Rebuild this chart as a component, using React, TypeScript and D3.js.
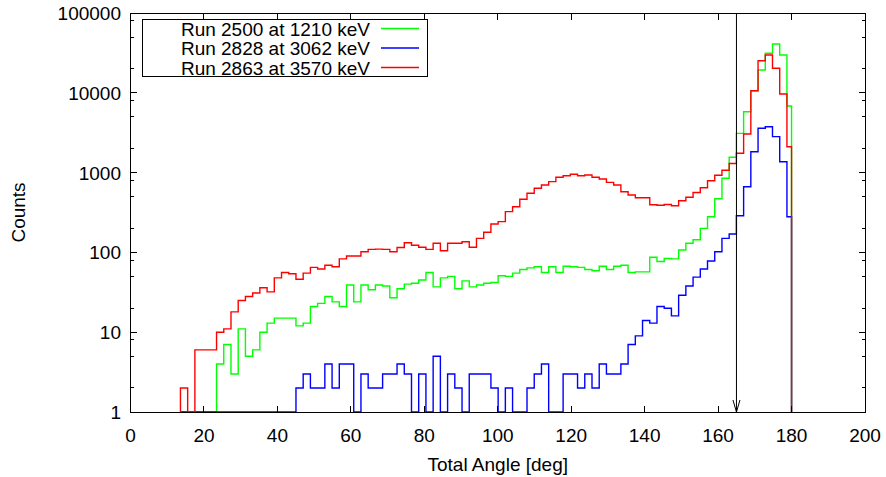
import React from 'react'
import * as d3 from 'd3'

// histogram bins (deg), 2-deg wide steps
const binStart = 13.6
const binWidth = 1.966
const angleMax = 180

const seriesNames = ['Run 2500 at 1210 keV', 'Run 2828 at 3062 keV', 'Run 2863 at 3570 keV']
const seriesColors = ['#00ff00', '#0000ff', '#ff0000']

const counts2500 = [0, 0, 0, 0, 0, 4, 7, 3, 11, 5, 6, 10, 13, 15, 15, 15, 12, 13, 21, 23,
  28, 24, 21, 39, 24, 39, 34, 39, 38, 27, 35, 40, 41, 45, 56, 37, 48, 50, 35, 44,
  37, 39, 41, 42, 51, 50, 55, 61, 64, 66, 56, 66, 56, 67, 66, 65, 61, 59, 67, 61,
  67, 69, 56, 57, 57, 87, 77, 84, 83, 107, 130, 144, 200, 280, 470, 848, 1555, 3105, 5800, 10600,
  19300, 31300, 40900, 29800, 6840]

const counts2828 = [1, 0, 0, 0, 0, 0, 0, 0, 0, 1, 0, 1, 0, 0, 1, 1, 2, 3, 2, 2,
  4, 2, 4, 4, 1, 3, 2, 2, 3, 3, 4, 3, 1, 3, 1, 5, 1, 3, 2, 1,
  3, 3, 3, 2, 1, 2, 1, 1, 2, 3, 4, 1, 1, 3, 3, 2, 3, 2, 4, 3,
  3, 4, 7, 9, 14, 13, 21, 20, 16, 29, 38, 49, 62, 78, 102, 150, 170, 288, 666, 1827,
  3590, 3760, 2820, 1370, 280]

const counts2863 = [2, 0, 6, 6, 6, 10, 11, 18, 25, 28, 31, 36, 32, 48, 56, 54, 46, 55, 65, 62,
  69, 66, 83, 90, 90, 102, 109, 110, 109, 102, 115, 132, 123, 116, 109, 130, 105, 130, 130, 136,
  116, 150, 179, 227, 243, 324, 374, 463, 550, 636, 700, 770, 873, 915, 953, 915, 935, 873, 832, 755,
  700, 576, 524, 485, 485, 395, 390, 398, 385, 444, 490, 563, 645, 792, 925, 1070, 1300, 1745, 3050, 10600,
  25200, 29800, 20300, 9660, 2110]

const xTicks = [0, 20, 40, 60, 80, 100, 120, 140, 160, 180, 200]
const yTicks = [1, 10, 100, 1000, 10000, 100000]
const yMinor = [2, 5, 8]
const arrowAngle = 165

const FONT = '"Liberation Sans", Arial, Helvetica, sans-serif'

export default function App() {
  const W = 886, H = 477
  const left = 130.5, right = 865, top = 13, bottom = 412

  const x = d3.scaleLinear().domain([0, 200]).range([left, right])
  const y = d3.scaleLog().domain([1, 100000]).range([bottom, top]).clamp(true)

  const series = [counts2500, counts2828, counts2863]

  const stepPath = (vals: number[]) => {
    const pts: [number, number][] = []
    pts.push([binStart, 1])
    vals.forEach((v, k) => pts.push([binStart + k * binWidth, Math.max(v, 1)]))
    const end = Math.min(binStart + vals.length * binWidth, angleMax)
    pts.push([end, Math.max(vals[vals.length - 1], 1)])
    pts.push([end, 1])
    return d3.line<[number, number]>()
      .x(d => x(d[0]))
      .y(d => y(d[1]))
      .curve(d3.curveStepAfter)(pts) || ''
  }

  const minorVals: number[] = []
  yTicks.slice(0, -1).forEach(t => yMinor.forEach(m => minorVals.push(t * m)))

  const major = 6.5, minor = 3.5
  const ax = x(arrowAngle)

  return (
    <svg width={W} height={H} style={{ position: 'absolute', left: 0, top: 0, background: '#fff' }}
      fontFamily={FONT}>
      <rect width={W} height={H} fill="#fff" />

      {series.map((vals, i) => (
        <path key={i} d={stepPath(vals)} fill="none" stroke={seriesColors[i]} strokeWidth={1.4} />
      ))}

      {/* marker arrow */}
      <g stroke="#000" strokeWidth={1} fill="none">
        <line x1={ax} x2={ax} y1={top} y2={bottom} />
        <path d={`M${ax - 3.5},${bottom - 12} L${ax},${bottom} L${ax + 3.5},${bottom - 12}`} />
      </g>

      {/* frame + ticks */}
      <g stroke="#000" strokeWidth={1} shapeRendering="crispEdges">
        <rect x={left} y={top} width={right - left} height={bottom - top} fill="none" />
        {xTicks.map(t => (
          <g key={'xt' + t}>
            <line x1={x(t)} x2={x(t)} y1={bottom} y2={bottom - major} />
            <line x1={x(t)} x2={x(t)} y1={top} y2={top + major} />
          </g>
        ))}
        {yTicks.map(t => (
          <g key={'yt' + t}>
            <line x1={left} x2={left + major} y1={y(t)} y2={y(t)} />
            <line x1={right} x2={right - major} y1={y(t)} y2={y(t)} />
          </g>
        ))}
        {minorVals.map(t => (
          <g key={'ym' + t}>
            <line x1={left} x2={left + minor} y1={y(t)} y2={y(t)} />
            <line x1={right} x2={right - minor} y1={y(t)} y2={y(t)} />
          </g>
        ))}
      </g>

      {/* tick labels */}
      <g fontSize={19} fill="#000">
        {xTicks.map(t => (
          <text key={'xl' + t} x={x(t)} y={442} textAnchor="middle">{t}</text>
        ))}
        {yTicks.map(t => (
          <text key={'yl' + t} x={121} y={y(t) + 7} textAnchor="end">{t}</text>
        ))}
        <text x={(left + right) / 2} y={471} textAnchor="middle">Total Angle [deg]</text>
        <text transform={`translate(25,${(top + bottom) / 2}) rotate(-90)`} textAnchor="middle">Counts</text>
      </g>

      {/* legend */}
      <g>
        <rect x={142.5} y={19.5} width={285} height={57} fill="#fff" stroke="#000" strokeWidth={1} />
        {seriesNames.map((name, i) => {
          const by = 35.5 + i * 19.5
          return (
            <g key={name}>
              <text x={370} y={by} textAnchor="end" fontSize={19} fill="#000">{name}</text>
              <line x1={381} x2={419} y1={by - 7} y2={by - 7} stroke={seriesColors[i]} strokeWidth={1.4} />
            </g>
          )
        })}
      </g>
    </svg>
  )
}
